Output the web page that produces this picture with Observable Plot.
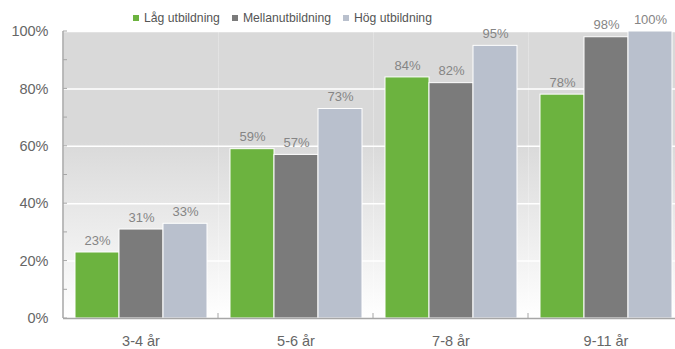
<!DOCTYPE html>
<html><head><meta charset="utf-8">
<script src="https://cdn.jsdelivr.net/npm/d3@7"></script>
<script src="https://cdn.jsdelivr.net/npm/@observablehq/plot@0.6"></script>
<style>
body{margin:0;background:#fff;overflow:hidden;font-family:"Liberation Sans",Arial,sans-serif}
#wrap{position:relative;width:675px;height:349px;overflow:hidden}
#legend{position:absolute;left:133px;top:11px;font-size:12.2px;color:#555;display:flex;white-space:nowrap;z-index:2}
#legend .item{display:flex;align-items:center;margin-right:12px}
#legend .sw{width:6px;height:6px;margin-right:5px}
#chart svg{max-width:none !important;display:block}
</style>
</head><body>
<div id="wrap"><div id="legend"></div><div id="chart"></div></div>
<script>
const groups = ["3-4 år", "5-6 år", "7-8 år", "9-11 år"];
const series = ["Låg utbildning", "Mellanutbildning", "Hög utbildning"];
const lowValues = [23, 59, 84, 78];
const midValues = [31, 57, 82, 98];
const highValues = [33, 73, 95, 100];
const colors = ["#6cb33f", "#7b7b7b", "#b9c0cd"];
const yTicks = [0, 20, 40, 60, 80, 100];
const yMinorTicks = [0, 10, 20, 30, 40, 50, 60, 70, 80, 90, 100];

const seriesValues = [lowValues, midValues, highValues];
const data = groups.flatMap((g, i) => series.map((s, j) => ({group: g, series: s, value: seriesValues[j][i]})));

// legend
const leg = d3.select("#legend");
series.forEach((s, j) => {
  const it = leg.append("div").attr("class", "item");
  it.append("div").attr("class", "sw").style("background", colors[j]);
  it.append("span").text(s);
});

const chart = Plot.plot({
  width: 683, height: 349,
  marginLeft: 63, marginRight: 0, marginTop: 31, marginBottom: 31,
  style: {fontFamily: "Liberation Sans, Arial, sans-serif", fontSize: "14.5px", color: "#666", background: "transparent", overflow: "visible", maxWidth: "none"},
  fx: {domain: groups, padding: 0, label: null, axis: "bottom", tickSize: 0, tickPadding: 17.5},
  x: {domain: series, paddingInner: 0, paddingOuter: 0.26, axis: null},
  y: {domain: [0, 100], ticks: yTicks, tickFormat: d => d + "%", tickSize: 0, tickPadding: 15, label: null},
  color: {domain: series, range: colors},
  marks: [
    Plot.frame({fill: "url(#bg)", stroke: "none"}),
    Plot.ruleY(yTicks.slice(1), {stroke: "#fff", strokeWidth: 1.5}),
    Plot.barY(data, {fx: "group", x: "series", y: "value", fill: "series", stroke: "#fff", strokeWidth: 1}),
    Plot.text(data, {fx: "group", x: "series", y: "value", text: d => d.value + "%", dy: -12, fill: "#858585", fontSize: 13}),
    Plot.ruleY([0], {stroke: "#a6a6a6", strokeWidth: 1.5})
  ]
});

const svg = d3.select(chart);
const grad = svg.insert("defs", ":first-child").append("linearGradient")
  .attr("id", "bg").attr("x1", 0).attr("y1", 0).attr("x2", 0).attr("y2", 1);
grad.append("stop").attr("offset", 0).attr("stop-color", "#d9d9d9");
grad.append("stop").attr("offset", 0.38).attr("stop-color", "#d9d9d9");
grad.append("stop").attr("offset", 1).attr("stop-color", "#ffffff");

// left axis line and inward minor ticks, bottom group separators
const ys = chart.scale("y"), fxs = chart.scale("fx");
const x0 = 63;
const ax = svg.append("g").attr("stroke", "#a6a6a6");
ax.append("line").attr("x1", x0).attr("x2", x0).attr("y1", ys.apply(0)).attr("y2", ys.apply(100)).attr("stroke-width", 1.5);
yMinorTicks.forEach(v => ax.append("line").attr("x1", x0).attr("x2", x0 + 4).attr("y1", ys.apply(v)).attr("y2", ys.apply(v)));
groups.slice(1).forEach(g => {
  const xp = fxs.apply(g);
  ax.append("line").attr("x1", xp).attr("x2", xp).attr("y1", ys.apply(0)).attr("y2", ys.apply(0) - 5);
});

document.getElementById("chart").appendChild(chart);
</script>
</body></html>
